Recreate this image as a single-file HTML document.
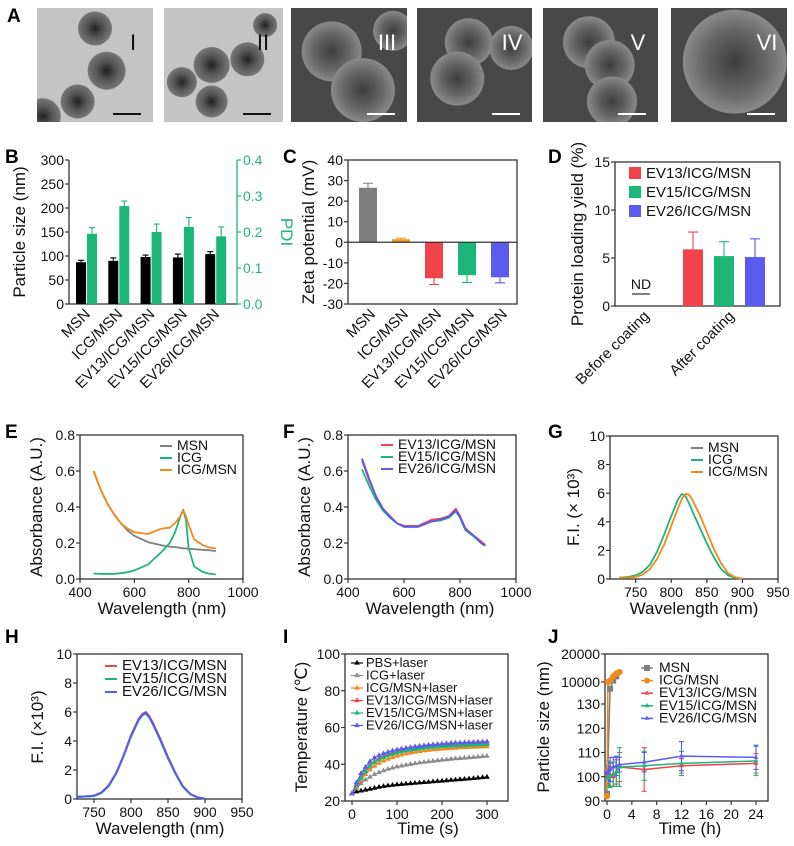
<!DOCTYPE html>
<html><head><meta charset="utf-8"><style>
html,body{margin:0;padding:0;background:#fff}
svg{display:block;font-family:"Liberation Sans",Arial,sans-serif}
</style></head><body>
<svg id="fig" width="794" height="846" viewBox="0 0 794 846" xmlns="http://www.w3.org/2000/svg"></svg>
<script>
// ---------- DATA ----------
const bCats=["MSN","ICG/MSN","EV13/ICG/MSN","EV15/ICG/MSN","EV26/ICG/MSN"];
const bSize=[87,90,98,97,104];
const bSizeErr=[4,6,4,7,5];
const bPdi=[0.195,0.272,0.2,0.214,0.188];
const bPdiErr=[0.017,0.014,0.022,0.026,0.026];
const cCats=["MSN","ICG/MSN","EV13/ICG/MSN","EV15/ICG/MSN","EV26/ICG/MSN"];
const cZeta=[26.5,1.5,-17.5,-16,-17];
const cErr=[2.2,0.5,3,3.5,2.7];
const dCats=["Before coating","After coating"];
const dSeries=["EV13/ICG/MSN","EV15/ICG/MSN","EV26/ICG/MSN"];
const dYield=[5.9,5.2,5.1];
const dErr=[1.8,1.5,1.9];
const eWl=[450,475,500,525,550,575,600,650,700,730,750,770,780,790,800,820,850,875,900];
const eMSN=[0.60,0.50,0.42,0.36,0.31,0.27,0.24,0.205,0.187,0.18,0.177,0.173,0.17,0.17,0.168,0.166,0.162,0.16,0.155];
const eICG=[0.03,0.029,0.028,0.029,0.032,0.038,0.048,0.08,0.15,0.2,0.26,0.35,0.385,0.33,0.17,0.07,0.04,0.03,0.025];
const eICGMSN=[0.60,0.50,0.42,0.36,0.31,0.28,0.26,0.25,0.28,0.285,0.31,0.35,0.38,0.35,0.3,0.22,0.19,0.175,0.17];
const fWl=[450,475,500,525,550,575,600,650,700,730,760,785,800,820,850,875,890];
const fEV13=[0.66,0.55,0.46,0.39,0.35,0.31,0.295,0.295,0.33,0.335,0.35,0.39,0.35,0.28,0.24,0.21,0.19];
const fEV15=[0.61,0.52,0.44,0.38,0.34,0.31,0.29,0.29,0.32,0.325,0.34,0.375,0.34,0.27,0.235,0.2,0.185];
const fEV26=[0.67,0.56,0.46,0.39,0.345,0.31,0.29,0.29,0.32,0.33,0.345,0.38,0.345,0.275,0.24,0.2,0.185];
const gWl=[727,740,750,760,770,780,790,800,810,815,820,825,830,840,850,860,870,880,890,900];
const gICG=[0.1,0.15,0.25,0.5,1.0,1.9,3.1,4.4,5.6,5.95,5.8,5.3,4.7,3.6,2.5,1.5,0.7,0.25,0.08,0.02];
const gICGMSN=[0.08,0.1,0.15,0.3,0.7,1.4,2.4,3.7,5.0,5.6,5.95,5.9,5.5,4.5,3.3,2.1,1.1,0.4,0.12,0.03];
const hWl=[727,740,750,760,770,780,790,800,810,815,820,825,830,840,850,860,870,880,890,900];
const hEV13=[0.15,0.18,0.22,0.45,0.95,1.8,3.0,4.4,5.5,5.85,6.0,5.7,5.2,4.1,2.9,1.8,0.9,0.35,0.12,0.03];
const hEV15=[0.14,0.17,0.2,0.42,0.9,1.75,2.95,4.3,5.4,5.75,5.9,5.6,5.1,4.0,2.8,1.75,0.85,0.33,0.1,0.02];
const hEV26=[0.16,0.19,0.23,0.44,0.93,1.78,2.98,4.35,5.45,5.8,5.95,5.65,5.15,4.05,2.85,1.78,0.88,0.34,0.11,0.03];
const iTime=[0,10,20,30,40,50,60,70,80,90,100,110,120,130,140,150,160,170,180,190,200,210,220,230,240,250,260,270,280,290,300];
const iPBS=[24,25,25.5,26,26.5,27,27.5,28,28.3,28.6,28.9,29.1,29.3,29.5,29.7,29.9,30.1,30.3,30.5,30.7,30.9,31.1,31.3,31.5,31.7,31.9,32.1,32.3,32.5,32.8,33];
const iICG=[24,27,29.5,31.5,33,34.5,35.5,36.5,37.3,38,38.6,39.1,39.6,40,40.4,40.8,41.1,41.4,41.7,42,42.3,42.5,42.8,43,43.2,43.4,43.6,43.8,44,44.2,44.4];
const iICGMSN=[24,28,31.5,34.5,37,39,40.5,41.8,42.8,43.7,44.5,45.1,45.7,46.2,46.6,47,47.3,47.6,47.9,48.1,48.3,48.5,48.7,48.8,49,49.1,49.2,49.3,49.4,49.5,49.6];
const iEV13=[24,29,33,36.5,39.5,41.5,43,44.2,45.2,46,46.7,47.3,47.8,48.2,48.6,49,49.3,49.6,49.8,50,50.2,50.4,50.5,50.6,50.7,50.8,50.9,51,51.1,51.2,51.3];
const iEV15=[24,28.6,32.5,36,39,41,42.5,43.7,44.7,45.5,46.2,46.8,47.3,47.7,48.1,48.5,48.8,49.1,49.3,49.5,49.7,49.9,50,50.1,50.2,50.3,50.4,50.5,50.6,50.7,50.8];
const iEV26=[24,30,35,38.5,41.5,43.5,44.8,45.8,46.6,47.3,47.9,48.4,48.8,49.2,49.6,49.9,50.2,50.5,50.7,50.9,51.1,51.3,51.5,51.6,51.7,51.8,51.9,52,52.1,52.2,52.3];
const jTimeMSN=[0,0.5,1,1.5];
const jMSN=[93,7000,10500,12000];
const jTimeICG=[0,0.15,0.5,1,1.5,2];
const jICGMSN=[92,10000,10500,12000,13000,13500];
const jTime=[0,0.25,0.5,1,1.5,2,6,12,24];
const jEV13=[100,100.5,101,100,102,104,103,104.5,105.5];
const jEV15=[99.5,100,100.5,101,102,104,104.5,105.5,106.5];
const jEV26=[101.5,102.5,103,104,104.5,105,106,108.5,108];
const jErr13=[3,4,5,4,5,6,9,3,4];
const jErr15=[4,4,5,5,6,8,6,5,6];
const jErr26=[3,4,5,4,4,3,4,6,5];

// ---------- HELPERS ----------
const S=document.getElementById('fig');
const NS='http://www.w3.org/2000/svg';
const TK=14, TT=17;
function el(tag,attrs,parent){const e=document.createElementNS(NS,tag);for(const k in attrs)e.setAttribute(k,attrs[k]);(parent||S).appendChild(e);return e;}
function txt(s,x,y,size,anchor,fill,extra){const e=el('text',Object.assign({x:x,y:y,'font-size':size,'text-anchor':anchor||'middle',fill:fill||'#111'},extra||{}));e.textContent=s;return e;}
function lin(d0,d1,r0,r1){return v=>r0+(v-d0)*(r1-r0)/(d1-d0);}
function group(name){const g=el('g',{});return g;}
const AX='#333';

function frame(g,x0,y0,x1,y1){const r=el('rect',{x:x0,y:y0,width:x1-x0,height:y1-y0,fill:'none',stroke:AX,'stroke-width':1.3},g);}
function yTicks(g,ticks,ys,x0,size,color,right,fmt){for(const t of ticks){const y=ys(t);const ln=el('line',{x1:right?x0:x0-4,x2:right?x0+4:x0,y1:y,y2:y,stroke:color||AX,'stroke-width':1.2},g);const t2=txt(fmt?fmt(t):String(t),right?x0+6:x0-5,y+5,size||TK,right?'start':'end',color||'#111',{});}}
function xTicks(g,ticks,xs,y0,size){for(const t of ticks){const x=xs(t);const ln=el('line',{x1:x,x2:x,y1:y0,y2:y0+4,stroke:AX,'stroke-width':1.2},g);const t2=txt(String(t),x,y0+18,size||TK,'middle');}}
function yTitle(g,s,x,y,size,color,rot){const t=txt(s,x,y,size||TT,'middle',color||'#111',{transform:'rotate('+(rot||-90)+' '+x+' '+y+')'});return t;}
function xTitle(g,s,x,y){const t=txt(s,x,y,TT,'middle');}
function letter(s,x,y){const t=txt(s,x,y,19,'start','#000',{'font-weight':'bold'});}
function pathOf(xs,ys,X,Y){return X.map((v,i)=>(i?'L':'M')+xs(v).toFixed(1)+' '+ys(Y[i]).toFixed(1)).join(' ');}
function series(g,name,xs,ys,X,Y,color,w){const p=el('path',{d:pathOf(xs,ys,X,Y),fill:'none',stroke:color,'stroke-width':w||1.8,'stroke-linejoin':'round'},g);return p;}
function legLine(g,name,x,y,color,label,size){const l=el('line',{x1:x,x2:x+12,y1:y-4,y2:y-4,stroke:color,'stroke-width':2},g);const t=txt(label,x+17,y,size||14,'start');}
function errBar(g,x,y1,y2,color,cap){const l=el('path',{d:'M'+x+' '+y1+' L'+x+' '+y2+' M'+(x-cap)+' '+y2+' L'+(x+cap)+' '+y2,stroke:color,'stroke-width':1.1,fill:'none'},g);}
function star(g,x,y,color,r){const pts=[];for(let k=0;k<3;k++){const a=-Math.PI/2+k*2*Math.PI/3;pts.push((x+r*Math.cos(a)).toFixed(1)+','+(y+r*Math.sin(a)).toFixed(1));}const p=el('polygon',{points:pts.join(' '),fill:color},g);}

// ---------- PANEL A ----------
(function(){
const g=group('panel-a-micrographs');
letter('A',7,22);
const tiles=[[37,153,'I',true],[164,283,'II',true],[291,407,'III',false],[417,532,'IV',false],[543,658,'V',false],[671,787,'VI',false]];
const defs=el('defs',{},g);
const rg1=el('radialGradient',{id:'tem'},defs);el('stop',{offset:'0','stop-color':'#222'},rg1);el('stop',{offset:'0.5','stop-color':'#555'},rg1);el('stop',{offset:'1','stop-color':'#777'},rg1);
const rg2=el('radialGradient',{id:'sem'},defs);el('stop',{offset:'0','stop-color':'#3e3e3e'},rg2);el('stop',{offset:'0.6','stop-color':'#666'},rg2);el('stop',{offset:'1','stop-color':'#8a8a8a'},rg2);
const blobs={
I:[[0.5,0.18,17],[0.6,0.55,19],[0.35,0.82,17],[0.05,0.95,18]],
II:[[0.7,0.45,17],[0.4,0.5,18],[0.85,0.15,12],[0.15,0.65,15],[0.4,0.82,16]],
III:[[0.35,0.38,30],[0.62,0.72,32],[0.88,0.2,20]],
IV:[[0.45,0.3,24],[0.35,0.62,27],[0.82,0.35,22]],
V:[[0.4,0.3,26],[0.58,0.5,25],[0.6,0.82,25]],
VI:[[0.55,0.47,52]]};
for(const [x0,x1,lab,tem] of tiles){
 const r=el('rect',{x:x0,y:8,width:x1-x0,height:114,fill:tem?'#c4c4c4':'#484848'},g);
 
 
 const W=x1-x0;
 const cp=el('clipPath',{id:'cp'+lab},defs);el('rect',{x:x0,y:8,width:W,height:114},cp);
 const gg=el('g',{'clip-path':'url(#cp'+lab+')'},g);
 for(const b of blobs[lab]){const c=el('circle',{cx:x0+b[0]*W,cy:8+b[1]*114,r:b[2],fill:tem?'url(#tem)':'url(#sem)'},gg);}
 const t=txt(lab,x1-20,50,22,'middle',tem?'#111':'#fff');
 
 
 const sb=el('line',{x1:x1-40,x2:x1-12,y1:114,y2:114,stroke:tem?'#111':'#fff','stroke-width':2},g);
 
 
}
})();

// ---------- PANEL B ----------
(function(){
const g=group('panel-b-size-pdi');
letter('B',5,163);
const x0=69,x1=237,yt=160,yb=304;
const yL=lin(0,300,yb,yt), yR=lin(0,0.4,yb,yt);
const ax=el('path',{d:`M${x0} ${yt} L${x0} ${yb} L${x1} ${yb}`,fill:'none',stroke:AX,'stroke-width':1.3},g);


el('line',{x1:x1,x2:x1,y1:yt,y2:yb,stroke:'#1db67a','stroke-width':1.3},g);
yTicks(g,[0,50,100,150,200,250,300],yL,x0,TK);
yTicks(g,[0,0.1,0.2,0.3,0.4],yR,x1,TK,'#1db67a',true,v=>v.toFixed(1));
yTitle(g,'Particle size (nm)',25,232);
yTitle(g,'PDI',281,232,TT,'#1db67a',90);
bCats.forEach((c,i)=>{
 const cx=81+i*32.3;
 const b=el('rect',{x:cx-5,y:yL(bSize[i]),width:10,height:yb-yL(bSize[i]),fill:'#000'},g);
 
 
 errBar(g,cx,yL(bSize[i]),yL(bSize[i]+bSizeErr[i]),'#000',3);
 const p=el('rect',{x:cx+6,y:yR(bPdi[i]),width:10,height:yb-yR(bPdi[i]),fill:'#1db67a'},g);
 
 
 errBar(g,cx+11,yR(bPdi[i]),yR(bPdi[i]+bPdiErr[i]),'#1db67a',3);
 const t=txt(c,cx+10,315,15,'end','#111',{transform:`rotate(-45 ${cx+10} 315)`});
 
 
});
})();

// ---------- PANEL C ----------
(function(){
const g=group('panel-c-zeta');
letter('C',283,163);
const x0=348,x1=517,yt=160,yb=304;
const y=lin(-30,40,yb,yt);
frame(g,x0,yt,x1,yb);
yTicks(g,[40,30,20,10,0,-10,-20,-30],y,x0,TK);
yTitle(g,'Zeta potential (mV)',314,232);
const cols=['#7f7f7f','#f39a1d','#f0434b','#1db67a','#5b5bf0'];
cCats.forEach((c,i)=>{
 const cx=368+i*33;
 const v=cZeta[i];
 const b=el('rect',{x:cx-9,y:Math.min(y(v),y(0)),width:18,height:Math.abs(y(v)-y(0)),fill:cols[i]},g);
 
 
 errBar(g,cx,y(v),y(v+Math.sign(v)*cErr[i]),cols[i],5);
 const t=txt(c,cx+8,315,15,'end','#111',{transform:`rotate(-45 ${cx+8} 315)`});
 
 
});
el('line',{x1:x0,x2:x1,y1:y(0),y2:y(0),stroke:AX,'stroke-width':1.2},g);
})();

// ---------- PANEL D ----------
(function(){
const g=group('panel-d-loading');
letter('D',548,163);
const x0=615,x1=780,yt=162,yb=306;
const y=lin(0,15,yb,yt);
frame(g,x0,yt,x1,yb);
yTicks(g,[0,5,10,15],y,x0,TK);
yTitle(g,'Protein loading yield (%)',583,234);
const cols=['#f0434b','#1db67a','#5b5bf0'];
dSeries.forEach((s,i)=>{
 const cx=693+i*31;
 const b=el('rect',{x:cx-10,y:y(dYield[i]),width:20,height:yb-y(dYield[i]),fill:cols[i]},g);
 
 
 errBar(g,cx,y(dYield[i]),y(dYield[i]+dErr[i]),cols[i],5);
 const sw=el('rect',{x:629,y:167+i*19,width:12,height:12,fill:cols[i]},g);
 
 
 const t=txt(s,646,178+i*19,15,'start');
 
 
});
const nd=txt('ND',641,289,14,'middle');


el('line',{x1:632,x2:650,y1:294,y2:294,stroke:'#333','stroke-width':1.2},g);
[[650,'Before coating'],[735,'After coating']].forEach(([x,s])=>{const t=txt(s,x,317,15,'end','#111',{transform:`rotate(-45 ${x} 317)`});});
})();

// ---------- PANEL E ----------
(function(){
const g=group('panel-e-absorbance');
letter('E',5,438);
const x0=80,x1=243,yt=435,yb=579;
const xs=lin(400,1000,x0,x1), ys=lin(0,0.8,yb,yt);
frame(g,x0,yt,x1,yb);
yTicks(g,[0,0.2,0.4,0.6,0.8],ys,x0,TK,null,false,v=>v.toFixed(1));
xTicks(g,[400,600,800,1000],xs,yb,TK);
yTitle(g,'Absorbance (A.U.)',42,507);
xTitle(g,'Wavelength (nm)',162,614);
series(g,'line-msn',xs,ys,eWl,eMSN,'#7f7f7f');
series(g,'line-icg',xs,ys,eWl,eICG,'#1db67a');
series(g,'line-icg-msn',xs,ys,eWl,eICGMSN,'#f08a1c');
legLine(g,'msn',160,450,'#7f7f7f','MSN');
legLine(g,'icg',160,462,'#1db67a','ICG');
legLine(g,'icg-msn',160,474,'#f08a1c','ICG/MSN');
})();

// ---------- PANEL F ----------
(function(){
const g=group('panel-f-absorbance');
letter('F',283,438);
const x0=348,x1=516,yt=435,yb=579;
const xs=lin(400,1000,x0,x1), ys=lin(0,0.8,yb,yt);
frame(g,x0,yt,x1,yb);
yTicks(g,[0,0.2,0.4,0.6,0.8],ys,x0,TK,null,false,v=>v.toFixed(1));
xTicks(g,[400,600,800,1000],xs,yb,TK);
yTitle(g,'Absorbance (A.U.)',310,507);
xTitle(g,'Wavelength (nm)',430,614);
series(g,'line-ev13',xs,ys,fWl,fEV13,'#f0434b');
series(g,'line-ev15',xs,ys,fWl,fEV15,'#1db67a');
series(g,'line-ev26',xs,ys,fWl,fEV26,'#5b5bf0');
legLine(g,'ev13',381,449,'#f0434b','EV13/ICG/MSN');
legLine(g,'ev15',381,461,'#1db67a','EV15/ICG/MSN');
legLine(g,'ev26',381,473,'#5b5bf0','EV26/ICG/MSN');
})();

// ---------- PANEL G ----------
(function(){
const g=group('panel-g-fluorescence');
letter('G',548,438);
const x0=610,x1=778,yt=436,yb=579;
const xs=lin(714,950,x0,x1), ys=lin(0,10,yb,yt);
frame(g,x0,yt,x1,yb);
yTicks(g,[0,2,4,6,8,10],ys,x0,TK);
xTicks(g,[750,800,850,900,950],xs,yb,TK);
yTitle(g,'F.I. (× 10³)',579,507);
xTitle(g,'Wavelength (nm)',694,614);
series(g,'line-icg',xs,ys,gWl,gICG,'#1db67a');
series(g,'line-icg-msn',xs,ys,gWl,gICGMSN,'#f08a1c');
legLine(g,'msn',691,452,'#7f7f7f','MSN');
legLine(g,'icg',691,464,'#1db67a','ICG');
legLine(g,'icg-msn',691,476,'#f08a1c','ICG/MSN');
})();

// ---------- PANEL H ----------
(function(){
const g=group('panel-h-fluorescence');
letter('H',5,643);
const x0=77,x1=242,yt=654,yb=799;
const xs=lin(727,950,x0,x1), ys=lin(0,10,yb,yt);
frame(g,x0,yt,x1,yb);
yTicks(g,[0,2,4,6,8,10],ys,x0,TK);
xTicks(g,[750,800,850,900,950],xs,yb,TK);
yTitle(g,'F.I.  (×10³)',43,727);
xTitle(g,'Wavelength (nm)',160,834);
series(g,'line-ev13',xs,ys,hWl,hEV13,'#f0434b',2);
series(g,'line-ev15',xs,ys,hWl,hEV15,'#1db67a',2);
series(g,'line-ev26',xs,ys,hWl,hEV26,'#5b5bf0',2);
legLine(g,'ev13',105,670,'#f0434b','EV13/ICG/MSN',15);
legLine(g,'ev15',105,683,'#1db67a','EV15/ICG/MSN',15);
legLine(g,'ev26',105,696,'#5b5bf0','EV26/ICG/MSN',15);
})();

// ---------- PANEL I ----------
(function(){
const g=group('panel-i-temperature');
letter('I',283,643);
const x0=345,x1=508,yt=654,yb=801;
const xs=lin(0,300,352,487), ys=lin(20,100,yb,yt);
frame(g,x0,yt,x1,yb);
yTicks(g,[20,40,60,80,100],ys,x0,TK);
xTicks(g,[0,100,200,300],xs,yb,TK);
yTitle(g,'Temperature (℃)',307,727);
xTitle(g,'Time (s)',428,834);
const sets=[['pbs',iPBS,'#000','PBS+laser'],['icg',iICG,'#8c8c8c','ICG+laser'],['icg-msn',iICGMSN,'#f08a1c','ICG/MSN+laser'],['ev13',iEV13,'#f0434b','EV13/ICG/MSN+laser'],['ev15',iEV15,'#1db67a','EV15/ICG/MSN+laser'],['ev26',iEV26,'#5b5bf0','EV26/ICG/MSN+laser']];
sets.forEach(([n,d,c,l],k)=>{
 series(g,'line-'+n,xs,ys,iTime,d,c,1.2);
 iTime.forEach((t,i)=>star(g,xs(t),ys(d[i]),c,3.2));
 const ly=667+k*12.5;
 el('line',{x1:351,x2:363,y1:ly-4,y2:ly-4,stroke:c,'stroke-width':1.2},g);
 star(g,357,ly-4,c,3.2);
 const t=txt(l,366,ly,13,'start');
 
 
});
})();

// ---------- PANEL J ----------
(function(){
const g=group('panel-j-stability');
letter('J',548,643);
const x0=605,x1=768,yt=654,yb=801;
const xs=lin(0,24,607,756);
const ys=v=> v<=130 ? 801-(v-90)*97/40 : (v<=10000 ? 704-(v-130)*22/9870 : 682-(v-10000)*28/10000);
frame(g,x0,yt,x1,yb);
yTicks(g,[90,100,110,120,130,10000,20000],ys,x0,TK);
xTicks(g,[0,4,8,12,16,20,24],xs,yb,TK);
yTitle(g,'Particle size (nm)',549,727);
xTitle(g,'Time (h)',690,834);
const ev=[['ev13',jEV13,jErr13,'#f0434b'],['ev15',jEV15,jErr15,'#1db67a'],['ev26',jEV26,jErr26,'#5b5bf0']];
ev.forEach(([n,d,e,c])=>{
 jTime.forEach((t,i)=>{errBar(g,xs(t),ys(d[i]),ys(d[i]+e[i]),c,2.5);errBar(g,xs(t),ys(d[i]),ys(d[i]-e[i]),c,2.5);});
});
series(g,'line-msn',xs,ys,jTimeMSN,jMSN,'#7f7f7f',1.5);
series(g,'line-icg-msn',xs,ys,jTimeICG,jICGMSN,'#f08a1c',1.5);
jTimeMSN.forEach((t,i)=>{const m=el('rect',{x:xs(t)-3,y:ys(jMSN[i])-3,width:6,height:6,fill:'#7f7f7f'},g);});
jTimeICG.forEach((t,i)=>{const m=el('circle',{cx:xs(t),cy:ys(jICGMSN[i]),r:3.2,fill:'#f08a1c'},g);});
ev.forEach(([n,d,e,c])=>{
 series(g,'line-'+n,xs,ys,jTime,d,c,1.5);
 jTime.forEach((t,i)=>star(g,xs(t),ys(d[i]),c,2.8));
});
const leg=[['msn','#7f7f7f','MSN'],['icg-msn','#f08a1c','ICG/MSN'],['ev13','#f0434b','EV13/ICG/MSN'],['ev15','#1db67a','EV15/ICG/MSN'],['ev26','#5b5bf0','EV26/ICG/MSN']];
leg.forEach(([n,c,l],k)=>{
 const ly=672+k*12.6;
 el('line',{x1:641,x2:653,y1:ly-4,y2:ly-4,stroke:c,'stroke-width':1.5},g);
 if(k===0){const m=el('rect',{x:644,y:ly-7,width:6,height:6,fill:c},g);}
 else if(k===1){const m=el('circle',{cx:647,cy:ly-4,r:3,fill:c},g);}
 else star(g,647,ly-4,c,2.8);
 const t=txt(l,659,ly,14,'start');
 
 
});
})();
</script>
</body></html>
